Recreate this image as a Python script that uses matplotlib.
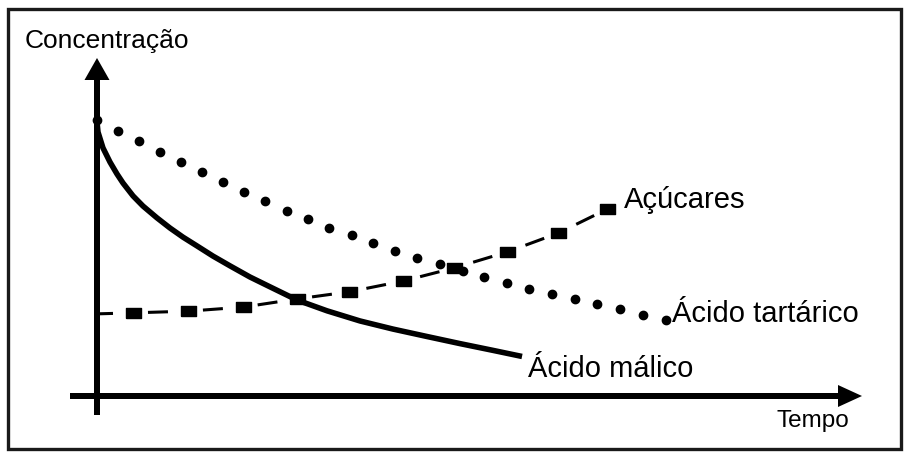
import matplotlib
matplotlib.use("Agg")
import matplotlib.pyplot as plt
from matplotlib.patches import Rectangle

plt.rcParams['font.family'] = ['Liberation Sans', 'DejaVu Sans']

# arbitrary units: tempo 0..100 along the x arrow, concentracao 0..100 up the y arrow
tartaric_t = [0.0, 2.7, 5.5, 8.2, 11.0, 13.7, 16.5, 19.2, 22.0, 24.8, 27.6, 30.3,
              33.3, 36.1, 39.0, 41.8, 44.8, 47.8, 50.6, 53.6, 56.5, 59.5, 62.5,
              65.4, 68.4, 71.4, 74.4]
tartaric_c = [81.7, 78.4, 75.4, 72.2, 69.2, 66.3, 63.3, 60.4, 57.7, 54.7, 52.4, 49.7,
              47.6, 45.3, 42.9, 40.8, 39.1, 37.0, 35.2, 33.4, 31.7, 30.2, 28.7,
              27.2, 25.7, 24.0, 22.5]

malic_t = [0.0, 0.13, 0.78, 1.7, 2.61, 3.4, 4.71, 6.01, 7.84, 9.54, 11.24, 13.07,
           15.16, 17.39, 20.0, 22.61, 26.14, 30.07, 34.38, 38.69, 43.14, 47.45,
           51.76, 55.56]
malic_c = [81.1, 78.1, 73.4, 69.2, 65.7, 63.0, 59.2, 56.2, 52.7, 49.7, 47.0, 44.4,
           41.4, 38.5, 35.2, 32.3, 28.4, 25.2, 22.2, 19.8, 17.6, 15.5, 13.5, 11.7]

sugar_t = [0.0, 4.7, 11.9, 19.1, 26.1, 32.9, 40.0, 46.7, 53.6, 60.3, 66.7]
sugar_c = [24.3, 24.6, 25.1, 26.3, 28.7, 30.8, 34.0, 37.9, 42.6, 48.2, 55.3]

labels = {
    "sugar": "Açúcares",
    "tartaric": "Ácido tartárico",
    "malic": "Ácido málico",
}

W, H = 913, 462
fig = plt.figure(figsize=(W / 100, H / 100), dpi=100)
ax = fig.add_axes([0, 0, 1, 1])
# 7.65 px per time unit, 3.38 px per concentration unit, origin at pixel (97, 396)
sx, sy = 7.65, 3.38
ax.set_xlim(-97 / sx, (W - 97) / sx)
ax.set_ylim(-(H - 396) / sy, 396 / sy)
ax.axis('off')

# frame around the whole picture
fig.patches.append(Rectangle((8 / W, 1 - 449 / H), 893 / W, 440 / H,
                             transform=fig.transFigure, fill=False,
                             ec='#1a1a1a', lw=2.4))

# axes drawn as arrows
ax.arrow(0, -19 / sy, 0, (415 - 58) / sy, width=6 / sx, head_width=25 / sx,
         head_length=22 / sy, length_includes_head=True, fc='black', ec='none',
         clip_on=False)
ax.arrow(-27 / sx, 0, (862 - 70) / sx, 0, width=6 / sy, head_width=22 / sy,
         head_length=24 / sx, length_includes_head=True, fc='black', ec='none',
         clip_on=False)

# ácido málico: thick solid line
ax.plot(malic_t, malic_c, color='black', lw=4.0, solid_capstyle='butt',
        solid_joinstyle='round')

# ácido tartárico: heavy dots
ax.plot(tartaric_t, tartaric_c, linestyle='none', marker='o', ms=6.0,
        color='black')

# açúcares: dashed line with rectangular markers
rect = [(-1, -0.73), (1, -0.73), (1, 0.73), (-1, 0.73), (-1, -0.73)]
lw_s = 2.2
ax.plot(sugar_t, sugar_c, color='black', lw=lw_s,
        linestyle=(4 * 0.72 / lw_s, (20 * 0.72 / lw_s, 35 * 0.72 / lw_s)),
        marker=rect, ms=10.8, markevery=list(range(1, len(sugar_t))))

# series labels next to the last point of each series
ax.annotate(labels["sugar"], (sugar_t[-1], sugar_c[-1]), xytext=(12, 0.5),
            textcoords='offset points', ha='left', va='baseline', fontsize=21)
ax.annotate(labels["tartaric"], (tartaric_t[-1], tartaric_c[-1]), xytext=(4.3, -1.4),
            textcoords='offset points', ha='left', va='baseline', fontsize=21)
ax.annotate(labels["malic"], (malic_t[-1], malic_c[-1]), xytext=(4.3, -15),
            textcoords='offset points', ha='left', va='baseline', fontsize=21)

# axis titles
ax.text(-72 / sx, (396 - 48) / sy, "Concentração", ha='left', va='baseline',
        fontsize=19)
ax.text((776 - 97) / sx, (396 - 427) / sy, "Tempo", ha='left', va='baseline',
        fontsize=17.5)

fig.savefig("out.png", dpi=100, facecolor='white')
